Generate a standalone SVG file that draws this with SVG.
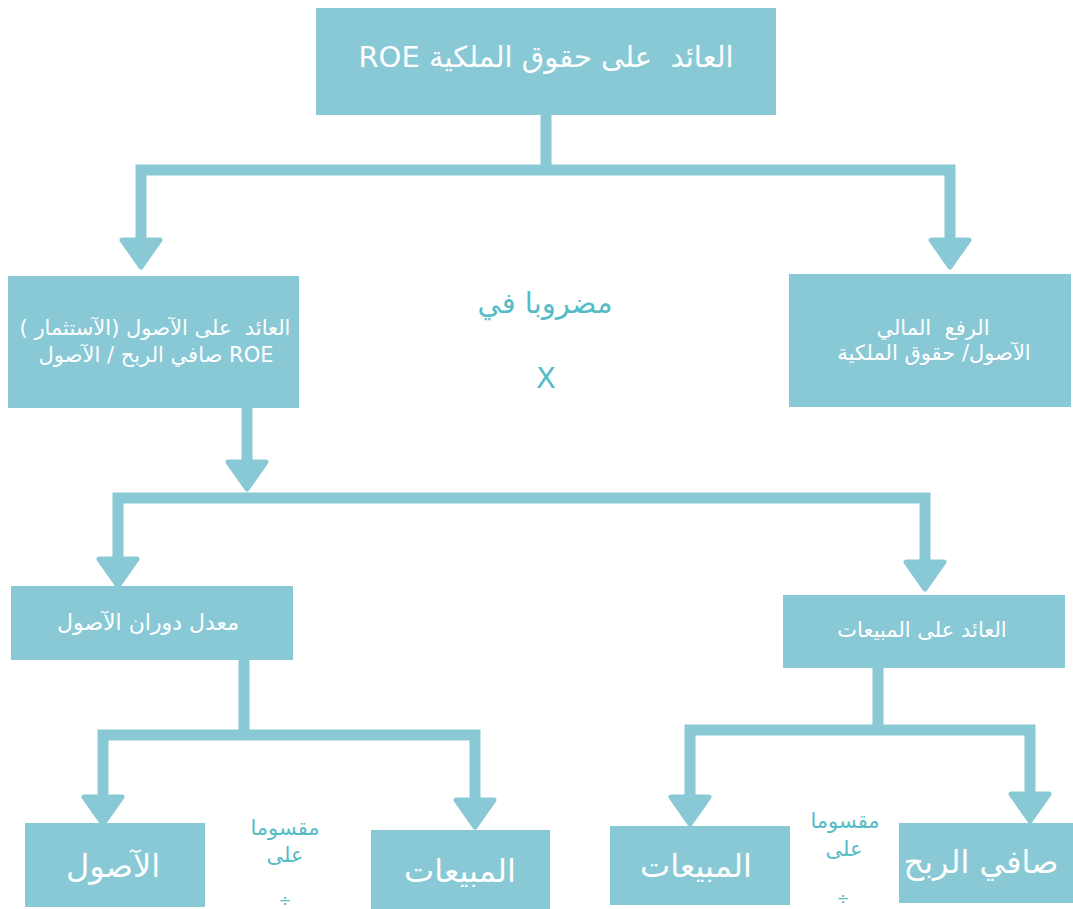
<svg xmlns="http://www.w3.org/2000/svg" width="1073" height="909" viewBox="0 0 1073 909">
<style>
.box{fill:#89C9D6;}
.conn{fill:none;stroke:#89C9D6;stroke-width:11;stroke-linejoin:miter;marker-end:url(#arr);}
.line{fill:none;stroke:#89C9D6;stroke-width:11;stroke-linejoin:miter;}
.t{font-family:"DejaVu Sans",sans-serif;fill:#ffffff;text-anchor:middle;direction:rtl;unicode-bidi:embed;white-space:pre;}
.m{font-family:"DejaVu Sans",sans-serif;fill:#55BCC6;text-anchor:middle;direction:rtl;unicode-bidi:embed;}
</style>
<defs>
<marker id="arr" markerUnits="userSpaceOnUse" viewBox="0 0 34 46" markerWidth="34" markerHeight="46" refX="3" refY="23" orient="auto">
<path d="M3 4 L30 23 L3 42 Z" fill="#89C9D6" stroke="#89C9D6" stroke-width="5" stroke-linejoin="round"/>
</marker>
</defs>
<rect width="1073" height="909" fill="#ffffff"/>
<g id="connectors">
<path class="line" d="M546 115 V170"/>
<path class="conn" d="M546 170 H141 V240"/>
<path class="conn" d="M546 170 H950 V240"/>
<path class="conn" d="M247 408 V462"/>
<path class="conn" d="M247 498 H118 V559"/>
<path class="conn" d="M247 498 H925 V562"/>
<path class="line" d="M244 660 V735"/>
<path class="conn" d="M244 735 H103 V797"/>
<path class="conn" d="M244 735 H475 V800"/>
<path class="line" d="M878 668 V730"/>
<path class="conn" d="M878 730 H690 V797"/>
<path class="conn" d="M878 730 H1030 V794"/>
</g>
<g id="roe">
<rect class="box" x="316" y="8" width="460" height="107"/>
<text class="t" x="546" y="67" font-size="29" xml:space="preserve">العائد  على حقوق الملكية ROE</text>
</g>
<g id="roa">
<rect class="box" x="8" y="276" width="291" height="132"/>
<text class="t" x="155" y="335" font-size="21" xml:space="preserve">العائد  على الآصول (الآستثمار )</text>
<text class="t" x="156" y="362" font-size="21">ROE صافي الربح / الآصول</text>
</g>
<g id="leverage">
<rect class="box" x="789" y="274" width="282" height="133"/>
<text class="t" x="933" y="335" font-size="21" xml:space="preserve">الرفع  المالي</text>
<text class="t" x="934" y="360" font-size="21">الآصول/ حقوق الملكية</text>
</g>
<g id="multiplied">
<text class="m" x="545" y="313" font-size="29">مضروبا في</text>
<text class="m" x="546" y="388" font-size="29">X</text>
</g>
<g id="turnover">
<rect class="box" x="11" y="586" width="282" height="74"/>
<text class="t" x="148" y="630" font-size="22">معدل دوران الآصول</text>
</g>
<g id="margin">
<rect class="box" x="783" y="595" width="282" height="73"/>
<text class="t" x="922" y="637" font-size="21">العائد على المبيعات</text>
</g>
<g id="assets">
<rect class="box" x="25" y="823" width="180" height="84"/>
<text class="t" x="113" y="877" font-size="32">الآصول</text>
</g>
<g id="sales1">
<rect class="box" x="371" y="830" width="179" height="79"/>
<text class="t" x="460" y="882" font-size="32">المبيعات</text>
</g>
<g id="div1">
<text class="m" x="285" y="835" font-size="21">مقسوما</text>
<text class="m" x="285" y="862" font-size="21">على</text>
<text class="m" x="285" y="906" font-size="15">÷</text>
</g>
<g id="sales2">
<rect class="box" x="610" y="826" width="180" height="79"/>
<text class="t" x="696" y="877" font-size="32">المبيعات</text>
</g>
<g id="div2">
<text class="m" x="845" y="828" font-size="21">مقسوما</text>
<text class="m" x="844" y="856" font-size="21">على</text>
<text class="m" x="843" y="904" font-size="15">÷</text>
</g>
<g id="netprofit">
<rect class="box" x="899" y="823" width="174" height="80"/>
<text class="t" x="981" y="873" font-size="32">صافي الربح</text>
</g>
</svg>
